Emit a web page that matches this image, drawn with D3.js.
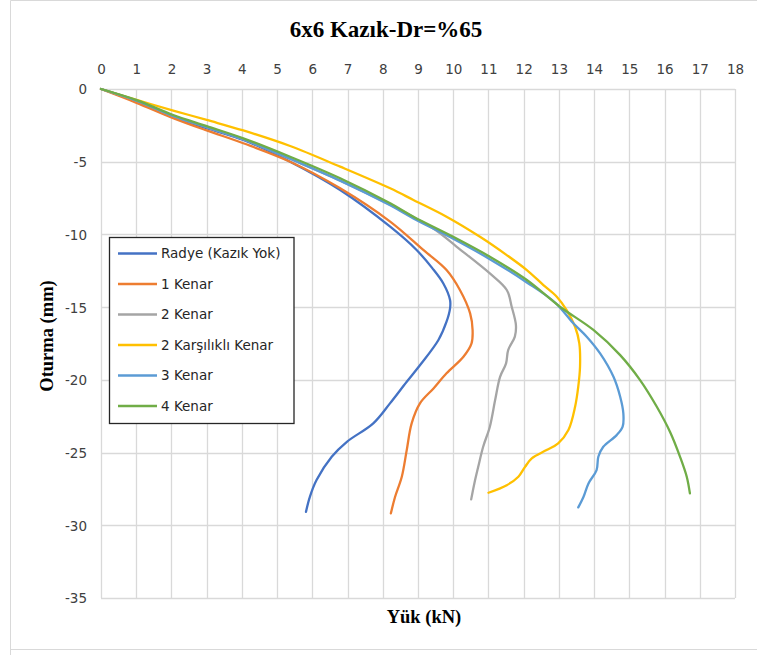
<!DOCTYPE html>
<html><head><meta charset="utf-8">
<script src="https://cdn.jsdelivr.net/npm/d3@7"></script>
<style>body{margin:0;background:#fff}svg{display:block}</style>
</head><body>
<svg id="chart" width="757" height="655"></svg>
<script>
const title = "6x6 Kazık-Dr=%65";
const xTitle = "Yük (kN)";
const yTitle = "Oturma (mm)";
const xTicks = d3.range(0, 19, 1);
const yTicks = [0, -5, -10, -15, -20, -25, -30, -35];
const seriesNames = ["Radye (Kazık Yok)", "1 Kenar", "2 Kenar", "2 Karşılıklı Kenar", "3 Kenar", "4 Kenar"];
const seriesColors = ["#4472C4", "#ED7D31", "#A5A5A5", "#FFC000", "#5B9BD5", "#70AD47"];

const radye = [[0,0],[1.01,-0.87],[2.05,-1.95],[3.0,-2.7],[4.04,-3.5],[5.37,-5.0],[6.79,-6.95],[8.21,-9.47],[8.96,-11.07],[9.4,-12.3],[9.72,-13.37],[9.91,-14.51],[9.91,-15.08],[9.81,-16.0],[9.58,-17.26],[9.06,-18.98],[8.68,-20.13],[8.21,-21.6],[7.73,-22.99],[6.98,-24.26],[6.55,-25.29],[6.12,-26.89],[5.93,-28.04],[5.82,-29.07]];
const kenar1 = [[0,0],[1.01,-0.95],[2.05,-2.0],[3.0,-2.85],[4.04,-3.73],[5.37,-5.0],[6.79,-6.83],[8.21,-9.12],[9.15,-11.07],[9.81,-12.45],[10.19,-13.82],[10.48,-15.43],[10.55,-16.57],[10.52,-17.49],[10.29,-18.41],[9.81,-19.55],[9.44,-20.59],[9.06,-21.6],[8.82,-22.99],[8.68,-24.83],[8.54,-26.66],[8.35,-28.04],[8.23,-29.18]];
const kenar2 = [[0,0],[1.01,-0.8],[2.05,-1.85],[3.0,-2.62],[4.04,-3.45],[5.37,-4.8],[6.79,-6.3],[8.21,-7.95],[8.87,-8.8],[9.5,-9.7],[10.1,-10.85],[11.04,-12.68],[11.52,-13.82],[11.66,-14.97],[11.78,-16.23],[11.75,-17.03],[11.56,-17.95],[11.5,-18.87],[11.33,-19.79],[11.19,-21.39],[11.04,-23.22],[10.85,-24.6],[10.71,-25.98],[10.6,-27.12],[10.51,-28.22]];
const karsilikli = [[0,0],[1.01,-0.75],[2.05,-1.48],[3.0,-2.13],[4.04,-2.85],[5.37,-3.92],[6.79,-5.34],[8.21,-6.83],[8.87,-7.63],[9.81,-8.78],[10.76,-10.16],[11.52,-11.42],[12.09,-12.45],[12.56,-13.48],[12.94,-14.28],[13.22,-15.2],[13.46,-16.35],[13.58,-17.49],[13.6,-19.1],[13.55,-20.47],[13.46,-21.85],[13.27,-23.45],[12.98,-24.37],[12.65,-24.83],[12.23,-25.4],[12.04,-25.98],[11.85,-26.66],[11.52,-27.24],[11.0,-27.76]];
const kenar3 = [[0,0],[1.01,-0.8],[2.05,-1.85],[3.0,-2.62],[4.04,-3.45],[5.37,-4.8],[6.79,-6.3],[8.21,-8.0],[8.87,-8.9],[10.0,-10.3],[11.04,-11.7],[12.09,-13.3],[12.9,-14.7],[13.41,-16.11],[13.79,-17.03],[14.17,-18.18],[14.55,-19.79],[14.74,-21.16],[14.83,-22.3],[14.81,-23.22],[14.64,-23.8],[14.26,-24.6],[14.12,-25.29],[14.07,-26.2],[13.84,-27.12],[13.7,-28.04],[13.55,-28.77]];
const kenar4 = [[0,0],[1.01,-0.76],[2.05,-1.79],[3.0,-2.55],[4.04,-3.39],[5.37,-4.66],[6.79,-6.14],[8.21,-7.86],[8.87,-8.78],[10.0,-10.16],[11.04,-11.53],[12.09,-13.13],[13.03,-14.97],[13.98,-16.57],[14.74,-18.3],[15.3,-20.0],[15.78,-21.85],[16.16,-23.6],[16.44,-25.29],[16.63,-26.66],[16.72,-27.81]];
const seriesData = [radye, kenar1, kenar2, karsilikli, kenar3, kenar4];

const svg = d3.select("#chart");
const L = 101, R = 735, T = 89, B = 598;
const x = d3.scaleLinear().domain([0, 18]).range([L, R]);
const y = d3.scaleLinear().domain([0, -35]).range([T, B]);

// outer frame
svg.append("path").attr("d", `M10.5,655 V0.5 H757 M10.5,649.5 H757`)
  .attr("fill", "none").attr("stroke", "#d9d9d9").attr("stroke-width", 1);

// grid
const g = svg.append("g");
g.selectAll("line.vx").data(xTicks).join("line")
  .attr("x1", d => Math.round(x(d)) + 0.5).attr("x2", d => Math.round(x(d)) + 0.5)
  .attr("y1", T).attr("y2", B).attr("stroke", "#d9d9d9").attr("stroke-width", 1.3);
g.selectAll("line.hy").data(yTicks).join("line")
  .attr("y1", d => Math.round(y(d)) + 0.5).attr("y2", d => Math.round(y(d)) + 0.5)
  .attr("x1", L).attr("x2", R).attr("stroke", "#d9d9d9").attr("stroke-width", 1.3);

// axes labels via d3 axes
const xAxis = svg.append("g").attr("transform", `translate(0,${T - 15})`)
  .call(d3.axisTop(x).tickValues(xTicks).tickSize(0).tickPadding(0).tickFormat(d3.format("d")));
const yAxis = svg.append("g").attr("transform", `translate(${L - 14},0)`)
  .call(d3.axisLeft(y).tickValues(yTicks).tickSize(0).tickPadding(0).tickFormat(d => d3.format("d")(d).replace("−", "-")));
[xAxis, yAxis].forEach(a => {
  a.select(".domain").remove();
  a.selectAll("text").attr("font-family", "DejaVu Sans").attr("font-size", 13.5).attr("fill", "#404040");
});
yAxis.selectAll("text").attr("dy", "0.36em");

// series
const line = d3.line().x(d => x(d[0])).y(d => y(d[1])).curve(d3.curveCatmullRom.alpha(0.5));
svg.append("g").selectAll("path").data(seriesData).join("path")
  .attr("d", line).attr("fill", "none")
  .attr("stroke", (d, i) => seriesColors[i]).attr("stroke-width", 2.3)
  .attr("stroke-linejoin", "round").attr("stroke-linecap", "round");

// titles
svg.append("text").attr("x", 386).attr("y", 36.5).attr("text-anchor", "middle")
  .attr("font-family", "Liberation Serif").attr("font-weight", "bold").attr("font-size", 23).attr("fill", "#000").text(title);
svg.append("text").attr("x", 424).attr("y", 623).attr("text-anchor", "middle")
  .attr("font-family", "Liberation Serif").attr("font-weight", "bold").attr("font-size", 18.5).attr("fill", "#000").text(xTitle);
svg.append("text").attr("transform", "translate(53,336) rotate(-90)").attr("text-anchor", "middle")
  .attr("font-family", "Liberation Serif").attr("font-weight", "bold").attr("font-size", 18.5).attr("fill", "#000").text(yTitle);

// legend
const lg = svg.append("g");
lg.append("rect").attr("x", 109.5).attr("y", 237.5).attr("width", 184.5).attr("height", 186)
  .attr("fill", "#fff").attr("stroke", "#262626").attr("stroke-width", 1.3);
const items = lg.selectAll("g.item").data(seriesNames).join("g")
  .attr("transform", (d, i) => `translate(0,${253.5 + i * 30.5})`);
items.append("line").attr("x1", 118).attr("x2", 157).attr("y1", 0).attr("y2", 0)
  .attr("stroke", (d, i) => seriesColors[i]).attr("stroke-width", 2.3);
items.append("text").attr("x", 161).attr("y", 0).attr("dy", "0.36em")
  .attr("font-family", "DejaVu Sans").attr("font-size", 13.5).attr("fill", "#262626").text(d => d);
</script>
</body></html>
